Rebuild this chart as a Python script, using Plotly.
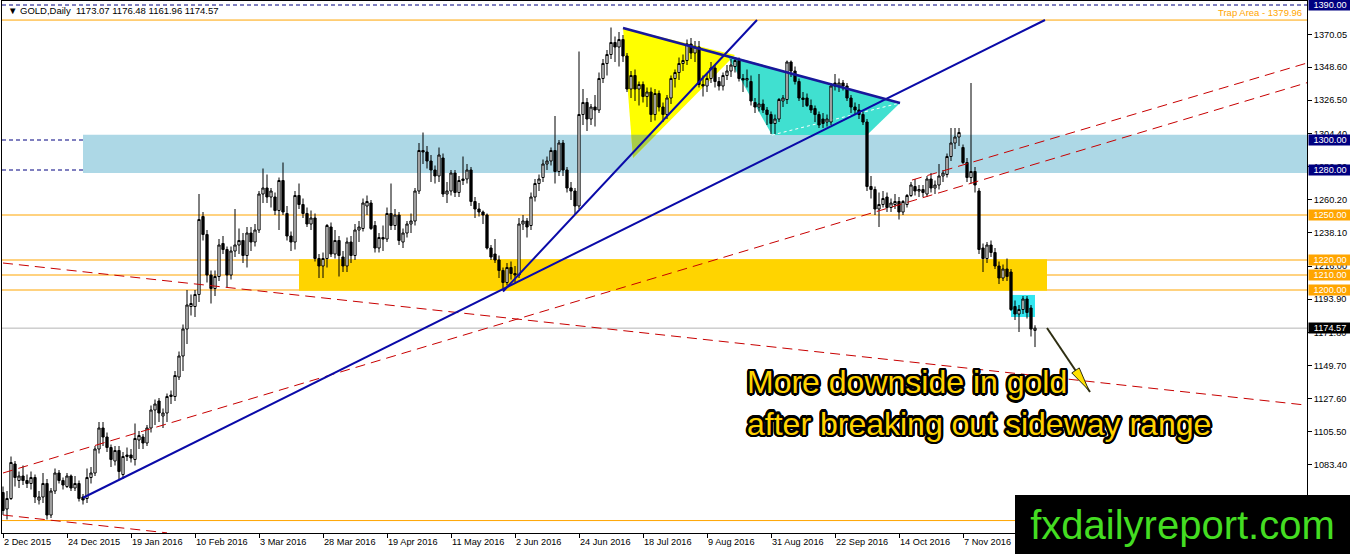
import plotly.graph_objects as go

# GOLD daily bars, 2 Dec 2015 .. 1 Dec 2016
OPEN = [
    1065, 1054, 1061, 1084, 1073, 1076, 1073, 1071, 1075, 1060,
    1062, 1071, 1050, 1066, 1078, 1073, 1069, 1076, 1068, 1071,
    1062, 1061, 1075, 1078, 1094, 1108, 1102, 1095, 1086, 1093,
    1077, 1089, 1090, 1087, 1100, 1102, 1098, 1108, 1120, 1126,
    1116, 1118, 1129, 1129, 1142, 1156, 1174, 1189, 1189, 1197,
    1249, 1237, 1210, 1201, 1209, 1231, 1227, 1210, 1226, 1230,
    1233, 1223, 1238, 1232, 1240, 1264, 1268, 1262, 1262, 1253,
    1273, 1251, 1236, 1232, 1263, 1257, 1251, 1244, 1248, 1221,
    1216, 1221, 1242, 1224, 1233, 1222, 1216, 1232, 1223, 1240,
    1241, 1256, 1258, 1243, 1228, 1235, 1234, 1251, 1243, 1250,
    1232, 1238, 1244, 1246, 1266, 1293, 1292, 1286, 1280, 1276,
    1288, 1264, 1266, 1278, 1265, 1273, 1274, 1280, 1259, 1254,
    1252, 1250, 1228, 1224, 1220, 1213, 1205, 1215, 1211, 1210,
    1244, 1246, 1243, 1262, 1271, 1275, 1284, 1286, 1293, 1279,
    1298, 1280, 1268, 1266, 1256, 1317, 1325, 1314, 1322, 1320,
    1341, 1351, 1357, 1365, 1362, 1367, 1356, 1334, 1343, 1334,
    1337, 1329, 1332, 1317, 1331, 1322, 1317, 1328, 1341, 1345,
    1351, 1353, 1364, 1358, 1362, 1337, 1336, 1341, 1348, 1339,
    1336, 1343, 1346, 1349, 1353, 1341, 1340, 1339, 1325, 1322,
    1324, 1320, 1317, 1311, 1314, 1326, 1327, 1352, 1346, 1339,
    1328, 1328, 1323, 1321, 1317, 1314, 1312, 1312, 1338, 1336,
    1338, 1336, 1328, 1322, 1320, 1317, 1312, 1269, 1267, 1254,
    1257, 1262, 1255, 1257, 1259, 1252, 1257, 1263, 1269, 1266,
    1267, 1264, 1274, 1268, 1270, 1276, 1277, 1289, 1298, 1302,
    1295, 1285, 1275, 1279, 1266, 1228, 1221, 1230, 1225, 1216,
    1208, 1214, 1212, 1189, 1184, 1187, 1194, 1188, 1173.07,
]
HIGH = [
    1069, 1066, 1089, 1086, 1079, 1083, 1077, 1079, 1077, 1066,
    1078, 1074, 1068, 1081, 1080, 1075, 1078, 1077, 1076, 1073,
    1064, 1081, 1082, 1096, 1112, 1112, 1105, 1097, 1096, 1096,
    1092, 1095, 1094, 1111, 1106, 1104, 1110, 1123, 1127, 1128,
    1121, 1131, 1133, 1146, 1159, 1177, 1200, 1197, 1200, 1264,
    1252, 1240, 1213, 1213, 1234, 1236, 1229, 1229, 1254, 1241,
    1238, 1242, 1242, 1244, 1266, 1281, 1277, 1268, 1265, 1275,
    1285, 1256, 1239, 1266, 1271, 1261, 1255, 1253, 1251, 1224,
    1225, 1244, 1245, 1240, 1236, 1226, 1235, 1236, 1244, 1246,
    1261, 1263, 1260, 1246, 1238, 1243, 1255, 1271, 1254, 1252,
    1241, 1246, 1251, 1268, 1298, 1305, 1296, 1290, 1283, 1295,
    1291, 1272, 1280, 1280, 1276, 1289, 1284, 1282, 1262, 1258,
    1253, 1251, 1230, 1234, 1223, 1215, 1218, 1219, 1216, 1248,
    1250, 1248, 1265, 1274, 1277, 1287, 1289, 1295, 1316, 1300,
    1300, 1282, 1272, 1268, 1359, 1334, 1328, 1324, 1330, 1345,
    1354, 1360, 1375, 1369, 1372, 1370, 1358, 1346, 1347, 1339,
    1339, 1335, 1335, 1334, 1333, 1325, 1330, 1343, 1347, 1355,
    1357, 1367, 1368, 1366, 1366, 1343, 1344, 1352, 1350, 1342,
    1345, 1350, 1354, 1355, 1355, 1344, 1347, 1343, 1328, 1344,
    1327, 1322, 1319, 1317, 1328, 1330, 1353, 1353, 1349, 1341,
    1332, 1331, 1327, 1323, 1319, 1318, 1317, 1338, 1344, 1341,
    1340, 1338, 1330, 1325, 1324, 1319, 1314, 1276, 1269, 1265,
    1266, 1265, 1261, 1264, 1262, 1260, 1264, 1272, 1274, 1270,
    1270, 1276, 1278, 1273, 1284, 1280, 1291, 1308, 1308, 1308,
    1297, 1288, 1338, 1282, 1268, 1231, 1232, 1233, 1228, 1219,
    1217, 1221, 1214, 1193, 1190, 1196, 1196, 1190, 1176.48,
]
LOW = [
    1050, 1047, 1060, 1069, 1068, 1070, 1068, 1067, 1058, 1057,
    1058, 1047, 1048, 1064, 1071, 1067, 1068, 1066, 1066, 1059,
    1057, 1058, 1071, 1076, 1091, 1096, 1092, 1082, 1083, 1074,
    1074, 1086, 1085, 1083, 1094, 1094, 1096, 1105, 1110, 1112,
    1108, 1112, 1124, 1126, 1140, 1146, 1164, 1183, 1182, 1192,
    1233, 1205, 1191, 1196, 1206, 1224, 1202, 1207, 1222, 1224,
    1218, 1215, 1226, 1229, 1238, 1258, 1258, 1255, 1250, 1240,
    1250, 1233, 1226, 1227, 1254, 1248, 1242, 1240, 1219, 1208,
    1208, 1215, 1222, 1221, 1209, 1212, 1212, 1218, 1220, 1232,
    1239, 1250, 1240, 1225, 1225, 1226, 1232, 1240, 1240, 1230,
    1228, 1235, 1238, 1243, 1264, 1284, 1281, 1272, 1271, 1272,
    1262, 1258, 1263, 1262, 1262, 1270, 1271, 1256, 1248, 1249,
    1244, 1227, 1220, 1218, 1208, 1201, 1203, 1207, 1205, 1208,
    1240, 1235, 1240, 1259, 1266, 1272, 1280, 1283, 1271, 1276,
    1276, 1265, 1260, 1250, 1254, 1310, 1306, 1310, 1309, 1318,
    1338, 1343, 1354, 1352, 1349, 1352, 1332, 1328, 1326, 1323,
    1325, 1322, 1312, 1313, 1319, 1312, 1314, 1324, 1335, 1340,
    1346, 1350, 1354, 1352, 1335, 1329, 1332, 1338, 1335, 1333,
    1333, 1340, 1342, 1345, 1339, 1332, 1335, 1323, 1318, 1319,
    1318, 1310, 1304, 1304, 1312, 1322, 1324, 1342, 1337, 1326,
    1322, 1322, 1318, 1312, 1308, 1308, 1309, 1310, 1333, 1332,
    1333, 1326, 1318, 1317, 1314, 1310, 1266, 1261, 1250, 1242,
    1255, 1252, 1252, 1254, 1247, 1250, 1255, 1262, 1263, 1262,
    1262, 1262, 1265, 1264, 1267, 1272, 1275, 1286, 1294, 1296,
    1284, 1272, 1271, 1265, 1224, 1212, 1218, 1222, 1214, 1204,
    1206, 1206, 1186, 1180, 1172, 1184, 1181, 1169, 1161.96,
]
CLOSE = [
    1053, 1061, 1085, 1075, 1076, 1073, 1071, 1075, 1062, 1062,
    1071, 1050, 1066, 1078, 1073, 1070, 1076, 1068, 1071, 1061,
    1060, 1075, 1078, 1094, 1108, 1102, 1095, 1087, 1093, 1079,
    1089, 1090, 1088, 1101, 1103, 1098, 1108, 1120, 1124, 1118,
    1118, 1129, 1130, 1143, 1156, 1174, 1190, 1191, 1197, 1247,
    1237, 1210, 1201, 1209, 1230, 1227, 1210, 1226, 1230, 1233,
    1223, 1238, 1232, 1240, 1264, 1268, 1262, 1266, 1253, 1273,
    1252, 1236, 1232, 1263, 1257, 1251, 1244, 1248, 1221, 1216,
    1221, 1243, 1224, 1233, 1223, 1216, 1232, 1223, 1240, 1242,
    1258, 1259, 1241, 1228, 1235, 1234, 1251, 1243, 1250, 1233,
    1238, 1244, 1246, 1266, 1293, 1292, 1286, 1280, 1276, 1290,
    1264, 1266, 1278, 1265, 1273, 1274, 1280, 1259, 1254, 1252,
    1250, 1228, 1222, 1220, 1213, 1205, 1215, 1211, 1210, 1244,
    1246, 1242, 1262, 1271, 1274, 1284, 1286, 1293, 1279, 1298,
    1280, 1268, 1266, 1256, 1317, 1325, 1314, 1322, 1320, 1341,
    1351, 1357, 1365, 1362, 1367, 1356, 1334, 1343, 1334, 1337,
    1329, 1332, 1317, 1331, 1322, 1317, 1328, 1341, 1345, 1351,
    1353, 1364, 1358, 1362, 1337, 1336, 1341, 1348, 1339, 1336,
    1343, 1346, 1350, 1353, 1341, 1340, 1341, 1326, 1322, 1324,
    1320, 1317, 1311, 1314, 1327, 1328, 1352, 1346, 1339, 1328,
    1327, 1323, 1320, 1317, 1310, 1311, 1314, 1336, 1336, 1338,
    1336, 1328, 1322, 1320, 1317, 1312, 1269, 1267, 1254, 1257,
    1261, 1255, 1258, 1259, 1252, 1259, 1263, 1270, 1266, 1267,
    1265, 1274, 1268, 1270, 1276, 1278, 1289, 1298, 1302, 1305,
    1285, 1275, 1279, 1270, 1227, 1221, 1230, 1225, 1216, 1208,
    1214, 1209, 1187, 1184, 1187, 1194, 1185, 1174, 1174.57,
]

DATE_LABELS = [
    "2 Dec 2015", "24 Dec 2015", "19 Jan 2016", "10 Feb 2016", "3 Mar 2016",
    "28 Mar 2016", "19 Apr 2016", "11 May 2016", "2 Jun 2016", "24 Jun 2016",
    "18 Jul 2016", "9 Aug 2016", "31 Aug 2016", "22 Sep 2016", "14 Oct 2016",
    "7 Nov 2016",
]
PRICE_TICKS = [1370.05, 1348.60, 1326.50, 1304.40, 1282.30, 1260.20, 1238.10,
               1216.00, 1193.90, 1171.80, 1149.70, 1127.60, 1105.50, 1083.40, 1061.30]

# horizontal levels
NAVY_LEVELS = [1390.00, 1300.00, 1280.00]
ORANGE_LEVELS = [1250.00, 1220.00, 1210.00, 1200.00]
TRAP_LEVEL = 1379.96
BOTTOM_LEVEL = 1046.30

# drawn objects, as (bar index, price)
BLUE_ZONE = ((20, 1278.0), (326, 1303.5))
GOLD_ZONE = ((74, 1199.5), (261, 1220.5))
CYAN_BOX = ((252, 1182.0), (258, 1196.7))
YELLOW_TRI = [(155, 1374.7), (157.5, 1288.0), (183, 1356.7)]
CYAN_POLY = [(181, 1356.7), (192.25, 1303.3), (216, 1303.3), (224.25, 1324.7)]
BLUE_LINES = [((20, 1061.5), (260.5, 1380.0)), ((125, 1199.0), (188.5, 1380.0))]
TOP_LINE = ((155, 1374.7), (224.25, 1324.7))
RED_LINES = [((0, 1078.0), (326, 1338.2)), ((227.25, 1273.3), (326, 1351.3)),
             ((0, 1218.0), (326, 1123.2)), ((0, 1050.0), (41, 1038.1))]
ARROW = ((261, 1174.7), (271.75, 1132.0))

W, H = 1350, 554
ML, MR, MT, MB = 2, 43, 1, 21
XR = [-0.25, 326]
YR = [1038.0, 1392.667]
PW, PH = W - ML - MR, H - MT - MB
FONT = "Liberation Sans, Arial, sans-serif"
NAVY = "#000080"
ORANGE = "#FFA500"


def to_px(i, p):
    x = ML + (i - XR[0]) / (XR[1] - XR[0]) * PW
    y = MT + (YR[1] - p) / (YR[1] - YR[0]) * PH
    return x, y


def to_data(x, y):
    i = XR[0] + (x - ML) / PW * (XR[1] - XR[0])
    p = YR[1] - (y - MT) / PH * (YR[1] - YR[0])
    return i, p


def poly_path(pts):
    return "M " + " L ".join(f"{a},{b}" for a, b in pts) + " Z"


def edge_at(a, b, p):
    t = (p - a[1]) / (b[1] - a[1])
    return (a[0] + t * (b[0] - a[0]), p)


bars = list(range(len(CLOSE)))
fig = go.Figure(go.Candlestick(
    x=bars, open=OPEN, high=HIGH, low=LOW, close=CLOSE,
    increasing=dict(line=dict(color="black", width=1), fillcolor="white"),
    decreasing=dict(line=dict(color="black", width=1), fillcolor="black"),
    whiskerwidth=0, hoverinfo="skip", showlegend=False,
))

shapes = []
# background zones
(bx0, by0), (bx1, by1) = BLUE_ZONE
shapes.append(dict(type="rect", x0=bx0, x1=bx1, y0=by0, y1=by1, fillcolor="#ADD8E6",
                   line_width=0, layer="below"))
(gx0, gy0), (gx1, gy1) = GOLD_ZONE
shapes.append(dict(type="rect", x0=gx0, x1=gx1, y0=gy0, y1=gy1, fillcolor="#FFD400",
                   line_width=0, layer="below"))
(cx0, cy0), (cx1, cy1) = CYAN_BOX
shapes.append(dict(type="rect", x0=cx0, x1=cx1, y0=cy0, y1=cy1, fillcolor="#33E6F0",
                   line_width=0, layer="below"))
shapes.append(dict(type="path", path=poly_path(YELLOW_TRI), fillcolor="#FFFF00",
                   line_width=0, layer="below"))
# part of the yellow triangle lying on the blue zone
top = BLUE_ZONE[1][1]
a, b, c = YELLOW_TRI
shapes.append(dict(type="path", path=poly_path([edge_at(a, b, top), edge_at(b, c, top), b]),
                   fillcolor="#A8CC48", line_width=0, layer="below"))
shapes.append(dict(type="path", path=poly_path(CYAN_POLY), fillcolor="#40E0D0",
                   line_width=0, layer="below"))
shapes.append(dict(type="line", x0=CYAN_POLY[1][0], y0=CYAN_POLY[1][1], x1=CYAN_POLY[3][0],
                   y1=CYAN_POLY[3][1], line=dict(color="white", width=1, dash="3px,3px"),
                   layer="below"))

# horizontal levels
for lv in NAVY_LEVELS:
    shapes.append(dict(type="line", xref="paper", x0=0, x1=1, y0=lv, y1=lv,
                       line=dict(color=NAVY, width=1, dash="4px,3px"), layer="below"))
for lv in ORANGE_LEVELS + [TRAP_LEVEL, BOTTOM_LEVEL]:
    shapes.append(dict(type="line", xref="paper", x0=0, x1=1, y0=lv, y1=lv,
                       line=dict(color=ORANGE, width=1), layer="below"))
shapes.append(dict(type="line", xref="paper", x0=0, x1=1, y0=CLOSE[-1], y1=CLOSE[-1],
                   line=dict(color="#B4B4B4", width=1), layer="below"))

# trend lines
for (x0, y0), (x1, y1) in RED_LINES:
    shapes.append(dict(type="line", x0=x0, y0=y0, x1=x1, y1=y1,
                       line=dict(color="#C80000", width=1, dash="10px,6px")))
for (x0, y0), (x1, y1) in BLUE_LINES:
    shapes.append(dict(type="line", x0=x0, y0=y0, x1=x1, y1=y1,
                       line=dict(color="#0A0AA8", width=2)))
(x0, y0), (x1, y1) = TOP_LINE
shapes.append(dict(type="line", x0=x0, y0=y0, x1=x1, y1=y1,
                   line=dict(color="#18189A", width=2.5)))

# arrow
(ax0, ay0), (ax1, ay1) = ARROW
shapes.append(dict(type="line", x0=ax0, y0=ay0, x1=ax1, y1=ay1,
                   line=dict(color="#2E2E12", width=2)))
tx, ty = to_px(ax1, ay1)
sx, sy = to_px(ax0, ay0)
L = ((tx - sx) ** 2 + (ty - sy) ** 2) ** 0.5
ux, uy = (tx - sx) / L, (ty - sy) / L
tipx, tipy = tx - 2 * ux, ty - 2 * uy
bcx, bcy = tipx - 24 * ux, tipy - 24 * uy
head = [to_data(tipx, tipy), to_data(bcx - 4.5 * uy, bcy + 4.5 * ux),
        to_data(bcx + 4.5 * uy, bcy - 4.5 * ux)]
shapes.append(dict(type="path", path=poly_path(head), fillcolor="#FFE000",
                   line=dict(color="#2E2E12", width=1)))

annotations = []
annotations.append(dict(
    xref="paper", yref="paper", x=0, y=1, xanchor="left", yanchor="top", xshift=4, yshift=-2,
    text=f"▼ GOLD,Daily  {OPEN[-1]:.2f} {HIGH[-1]:.2f} {LOW[-1]:.2f} {CLOSE[-1]:.2f}",
    showarrow=False, font=dict(family=FONT, size=9.5, color="black")))
annotations.append(dict(
    xref="paper", yref="y", x=1, y=TRAP_LEVEL, xanchor="right", yanchor="bottom",
    xshift=-3, yshift=0, text=f"Trap Area - {TRAP_LEVEL:.2f}", showarrow=False,
    font=dict(family=FONT, size=9.5, color=ORANGE)))

boxes = [(lv, NAVY) for lv in NAVY_LEVELS] + [(lv, ORANGE) for lv in ORANGE_LEVELS] + \
        [(CLOSE[-1], "black")]
for lv, col in boxes:
    annotations.append(dict(
        xref="paper", yref="y", x=1, y=lv, xanchor="left", yanchor="middle", xshift=1,
        text=f"{lv:.2f}", showarrow=False, bgcolor=col, width=42, height=10, borderpad=0,
        font=dict(family=FONT, size=9.2, color="white")))

offs = [(-2.5, 0), (2.5, 0), (0, -2.5), (0, 2.5), (-1.8, -1.8), (1.8, -1.8), (-1.8, 1.8),
        (1.8, 1.8), (-1, -2.3), (1, -2.3), (-1, 2.3), (1, 2.3), (-2.3, -1), (2.3, -1),
        (-2.3, 1), (2.3, 1)]
outline = ", ".join(f"{dx}px {dy}px 0px #000" for dx, dy in offs)
tx_i, tx_p = to_data(745, 403)
annotations.append(dict(
    xref="x", yref="y", x=tx_i, y=tx_p, xanchor="left", yanchor="middle", align="left",
    text="More downside in gold<br>after breaking out sideway range", showarrow=False,
    font=dict(family=FONT, size=32, color="#FFD200", shadow=outline)))

annotations.append(dict(
    xref="paper", yref="paper", x=(1015 - ML) / PW, y=1 - (H - MT) / PH,
    xanchor="left", yanchor="bottom", width=335, height=59, borderpad=0, borderwidth=0,
    bgcolor="black", text="fxdailyreport.com", showarrow=False,
    font=dict(family=FONT, size=40, color="#44DD22")))

fig.update_layout(
    width=W, height=H, margin=dict(l=ML, r=MR, t=MT, b=MB, autoexpand=False),
    paper_bgcolor="white", plot_bgcolor="white", boxgap=0.2,
    shapes=shapes, annotations=annotations, showlegend=False,
    xaxis=dict(range=XR, rangeslider=dict(visible=False), showgrid=False, zeroline=False,
               showline=True, mirror=True, linecolor="black", linewidth=1,
               tickvals=list(range(0, 16 * len(DATE_LABELS), 16)), ticktext=DATE_LABELS,
               ticks="outside", ticklen=4, tickcolor="black", ticklabelposition="outside right",
               tickfont=dict(family=FONT, size=9.2, color="black"), fixedrange=True),
    yaxis=dict(range=YR, side="right", showgrid=False, zeroline=False,
               showline=True, mirror=True, linecolor="black", linewidth=1,
               tickvals=PRICE_TICKS, ticktext=[f"{v:.2f}" for v in PRICE_TICKS],
               ticks="outside", ticklen=4, tickcolor="black",
               tickfont=dict(family=FONT, size=9.2, color="black"), fixedrange=True),
)

fig.write_html("out.html", config={"displayModeBar": False},
               post_script="document.body.style.margin='0px';")
